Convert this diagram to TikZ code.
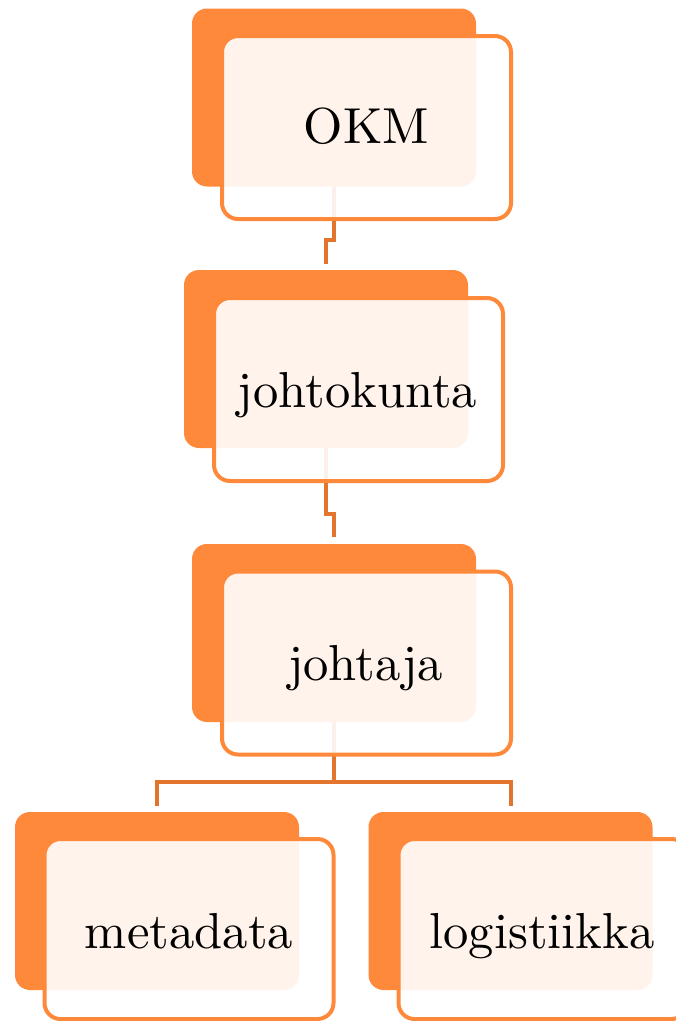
\documentclass[tikz,border=0pt]{standalone}
\usepackage{fontspec}
\usepackage{tikz}
\newfontfamily\lmten{lmroman10-regular}[Extension=.otf]
\definecolor{accent}{RGB}{255,137,58}
\definecolor{conn}{RGB}{226,116,46}
\begin{document}
\begin{tikzpicture}[x=1pt,y=-1pt,
  backbox/.style={fill=accent, rounded corners=15pt, inner sep=0pt, minimum width=284pt, minimum height=178pt},
  frontbox/.style={draw=accent, line width=4pt, fill=white, fill opacity=0.9, rounded corners=16pt, inner sep=0pt, minimum width=289pt, minimum height=183pt},
  label/.style={anchor=base, inner sep=0pt, font=\lmten\fontsize{50.6}{60}\selectfont, text=black},
  connector/.style={draw=conn, line width=4pt}
]
\useasboundingbox (0,0) rectangle (676,1021);
% back boxes (positions for connectors)
\node[backbox] (b1) at (334,97.5) {};
\node[backbox] (b2) at (326,359) {};
\node[backbox] (b3) at (334,633) {};
\node[backbox] (b4) at (157,901) {};
\node[backbox] (b5) at (510.5,901) {};
% connectors
\path[connector, shorten >=6pt] (b1.south) -- (b1.south |- 0,240) -- (b2.north |- 0,240) -- (b2.north);
\path[connector, shorten >=7pt] (b2.south) -- (b2.south |- 0,514) -- (b3.north |- 0,514) -- (b3.north);
\coordinate (j) at (334,782);
\path[connector] (b3.south) -- (j);
\path[connector, shorten >=6pt] (j) -| (b4.north);
\path[connector, shorten >=6pt] (j) -| (b5.north);
% front boxes
\node[frontbox] (f1) at (366.5,127.5) {};
\node[frontbox] (f2) at (358.5,389.5) {};
\node[frontbox] (f3) at (366.5,663) {};
\node[frontbox, minimum height=180pt] (f4) at (189,929) {};
\node[frontbox, minimum height=180pt] (f5) at (543,929) {};
% labels
\node[label] (t1) at (366.5,143) {OKM};
\node[label] (t2) at (357.5,407) {johtokunta};
\node[label] (t3) at (365.5,680) {johtaja};
\node[label] (t4) at (189,948) {metadata};
\node[label] (t5) at (542,948) {logistiikka};
\end{tikzpicture}
\end{document}
